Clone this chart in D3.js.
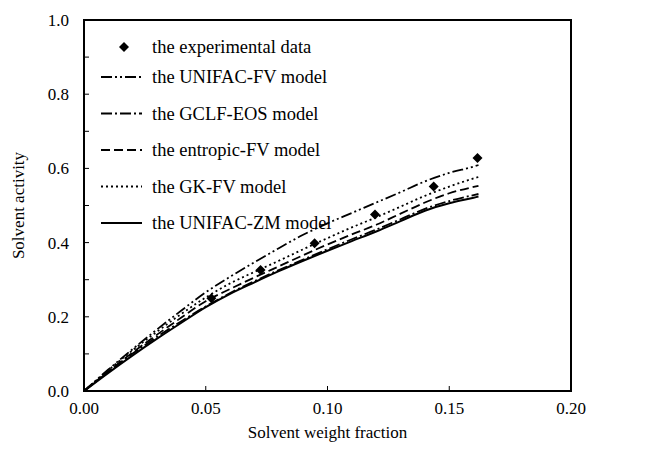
<!DOCTYPE html>
<html>
<head>
<meta charset="utf-8">
<script src="https://cdn.jsdelivr.net/npm/d3@7"></script>
<style>
  body { margin: 0; background: #fff; }
  text { font-family: "Liberation Serif", "Times New Roman", serif; fill: #000; }
</style>
</head>
<body>
<div id="chart"></div>
<script>
// data
const expX = [0.0523, 0.0725, 0.0947, 0.1195, 0.1436, 0.1616];
const expY = [0.250, 0.326, 0.398, 0.476, 0.551, 0.628];

const modelX = [0, 0.01, 0.02, 0.03, 0.04, 0.05, 0.06, 0.07, 0.08, 0.09, 0.10, 0.11, 0.12, 0.13, 0.14, 0.15, 0.16, 0.162];
const unifacFV = [0, 0.058, 0.113, 0.166, 0.217, 0.266, 0.308, 0.347, 0.385, 0.421, 0.452, 0.480, 0.508, 0.536, 0.565, 0.588, 0.605, 0.609];
const gclfEOS = [0, 0.052, 0.101, 0.146, 0.188, 0.228, 0.264, 0.296, 0.326, 0.354, 0.382, 0.409, 0.435, 0.463, 0.491, 0.512, 0.528, 0.531];
const entropicFV = [0, 0.053, 0.104, 0.152, 0.198, 0.242, 0.275, 0.306, 0.336, 0.366, 0.395, 0.422, 0.448, 0.478, 0.508, 0.533, 0.550, 0.553];
const gkFV = [0, 0.056, 0.110, 0.160, 0.208, 0.252, 0.290, 0.321, 0.351, 0.382, 0.412, 0.441, 0.468, 0.497, 0.526, 0.551, 0.573, 0.577];
const unifacZM = [0, 0.049, 0.096, 0.141, 0.184, 0.226, 0.262, 0.293, 0.323, 0.351, 0.378, 0.404, 0.430, 0.458, 0.486, 0.506, 0.521, 0.524];

const xTicks = [0, 0.05, 0.10, 0.15, 0.20];
const yTicks = [0, 0.2, 0.4, 0.6, 0.8, 1.0];
const yMinor = [0.1, 0.3, 0.5, 0.7, 0.9];

const models = [
  { name: "the UNIFAC-FV model", values: unifacFV, dash: "11,3,2,3,2,3", width: 1.8 },
  { name: "the GCLF-EOS model", values: gclfEOS, dash: "11,3,2,3", width: 1.8 },
  { name: "the entropic-FV model", values: entropicFV, dash: "9,4", width: 1.8 },
  { name: "the GK-FV model", values: gkFV, dash: "2,3", width: 1.8 },
  { name: "the UNIFAC-ZM model", values: unifacZM, dash: null, width: 2 },
];

const width = 653, height = 456;
const margin = { top: 20, right: 82, bottom: 65, left: 84 };
const w = width - margin.left - margin.right;
const h = height - margin.top - margin.bottom;

const svg = d3.select("#chart").append("svg")
  .attr("width", width)
  .attr("height", height);

const g = svg.append("g")
  .attr("transform", `translate(${margin.left},${margin.top})`);

const x = d3.scaleLinear().domain([0, 0.2]).range([0, w]);
const y = d3.scaleLinear().domain([0, 1]).range([h, 0]);

// tick marks point inward
g.selectAll(".ytick")
  .data(yTicks.concat(yMinor))
  .enter().append("line")
  .attr("x1", 0).attr("x2", 5)
  .attr("y1", d => y(d)).attr("y2", d => y(d))
  .attr("stroke", "#000").attr("stroke-width", 1);

g.selectAll(".xtick")
  .data(xTicks)
  .enter().append("line")
  .attr("x1", d => x(d)).attr("x2", d => x(d))
  .attr("y1", h).attr("y2", h - 5)
  .attr("stroke", "#000").attr("stroke-width", 1);

g.selectAll(".ylab")
  .data(yTicks)
  .enter().append("text")
  .attr("x", -15)
  .attr("y", d => y(d))
  .attr("dy", "0.35em")
  .attr("text-anchor", "end")
  .style("font-size", "17px")
  .text(d => d3.format(".1f")(d));

g.selectAll(".xlab")
  .data(xTicks)
  .enter().append("text")
  .attr("x", d => x(d))
  .attr("y", h + 23)
  .attr("text-anchor", "middle")
  .style("font-size", "17px")
  .text(d => d3.format(".2f")(d));

// frame
g.append("rect")
  .attr("width", w).attr("height", h)
  .attr("fill", "none")
  .attr("stroke", "#000")
  .attr("stroke-width", 2);

// axis titles
g.append("text")
  .attr("x", w / 2)
  .attr("y", h + 47)
  .attr("text-anchor", "middle")
  .style("font-size", "17px")
  .text("Solvent weight fraction");

g.append("text")
  .attr("transform", "rotate(-90)")
  .attr("x", -h / 2)
  .attr("y", -60)
  .attr("text-anchor", "middle")
  .style("font-size", "17px")
  .text("Solvent activity");

// model curves
const line = d3.line()
  .x((d, i) => x(modelX[i]))
  .y(d => y(d))
  .curve(d3.curveMonotoneX);

models.forEach(m => {
  g.append("path")
    .datum(m.values)
    .attr("fill", "none")
    .attr("stroke", "#000")
    .attr("stroke-width", m.width)
    .attr("stroke-dasharray", m.dash)
    .attr("d", line);
});

// experimental points
const diamond = d3.symbol().type(d3.symbolSquare).size(50);
g.selectAll(".pt")
  .data(expX)
  .enter().append("path")
  .attr("d", diamond)
  .attr("transform", (d, i) => `translate(${x(d)},${y(expY[i])}) rotate(45)`)
  .attr("fill", "#000");

// legend
const leg = g.append("g").attr("transform", "translate(17,27)");
leg.append("path")
  .attr("d", diamond)
  .attr("transform", "translate(23,0) rotate(45)")
  .attr("fill", "#000");
leg.append("text")
  .attr("x", 51).attr("y", 0).attr("dy", "0.35em")
  .style("font-size", "18.5px")
  .text("the experimental data");

models.forEach((m, i) => {
  const ly = 30 + i * 36.5;
  leg.append("line")
    .attr("x1", 0).attr("x2", 41)
    .attr("y1", ly).attr("y2", ly)
    .attr("stroke", "#000")
    .attr("stroke-width", m.width)
    .attr("stroke-dasharray", m.dash);
  leg.append("text")
    .attr("x", 51).attr("y", ly).attr("dy", "0.35em")
    .style("font-size", "18.5px")
    .text(m.name);
});
</script>
</body>
</html>
